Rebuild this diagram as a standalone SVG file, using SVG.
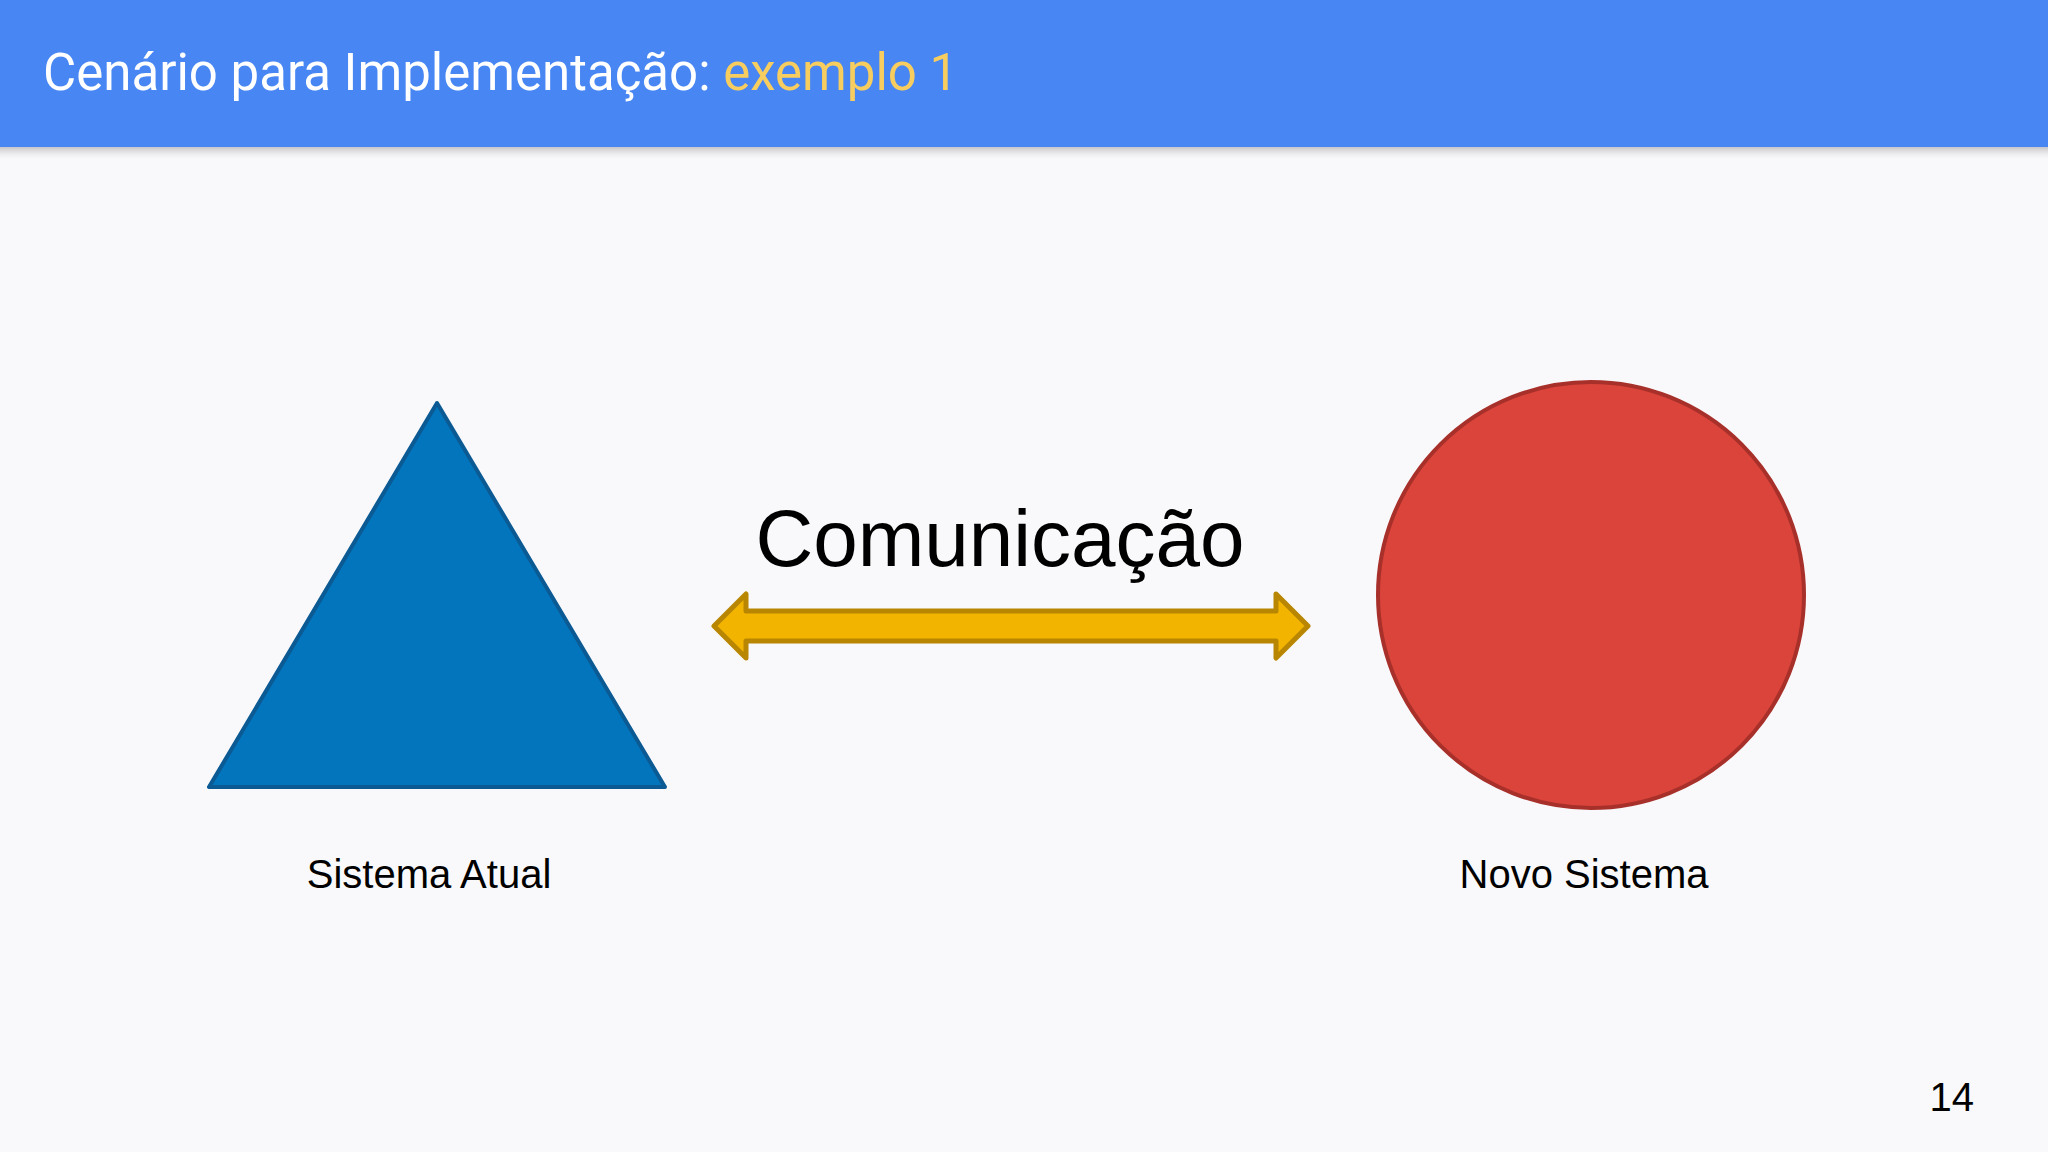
<svg xmlns="http://www.w3.org/2000/svg" width="2048" height="1152" viewBox="0 0 2048 1152">
  <defs>
    <linearGradient id="hdrShadow" x1="0" y1="0" x2="0" y2="1">
      <stop offset="0" stop-color="#9a9aa0" stop-opacity="0.55"/>
      <stop offset="1" stop-color="#f9f9fb" stop-opacity="0"/>
    </linearGradient>
  </defs>
  <style>
    .title { font-family: Roboto, "Liberation Sans", sans-serif; font-size: 51px; font-weight: 400; fill: #ffffff; }
    .accent { fill: #f7cd5f; }
    .label { font-family: "Liberation Sans", Arial, sans-serif; fill: #000000; }
    .node-label { font-size: 40px; text-anchor: middle; }
  </style>
  <rect x="0" y="0" width="2048" height="1152" fill="#f9f9fb"/>
  <g id="header">
    <rect x="0" y="147" width="2048" height="14" fill="url(#hdrShadow)"/>
    <rect x="0" y="0" width="2048" height="147" fill="#4786f3"/>
    <text class="title" x="43" y="90">Cenário para Implementação: <tspan class="accent">exemplo 1</tspan></text>
  </g>
  <g id="sistema-atual">
    <polygon points="437,403 209,787 665,787" fill="#0275bc" stroke="#0b5a93" stroke-width="4" stroke-linejoin="round"/>
    <text class="label node-label" x="429" y="888">Sistema Atual</text>
  </g>
  <g id="novo-sistema">
    <circle cx="1591" cy="595" r="213" fill="#db443a" stroke="#a8302a" stroke-width="4"/>
    <text class="label node-label" x="1584" y="888">Novo Sistema</text>
  </g>
  <g id="connectors">
    <path d="M714,626 L746,594 L746,611 L1276,611 L1276,594 L1308,626 L1276,658 L1276,641 L746,641 L746,658 Z" fill="#f3b400" stroke="#b88600" stroke-width="5" stroke-linejoin="round"/>
    <text class="label" x="1000" y="566" font-size="80" text-anchor="middle">Comunicação</text>
  </g>
  <text class="label" x="1974" y="1111" font-size="40" text-anchor="end">14</text>
</svg>
